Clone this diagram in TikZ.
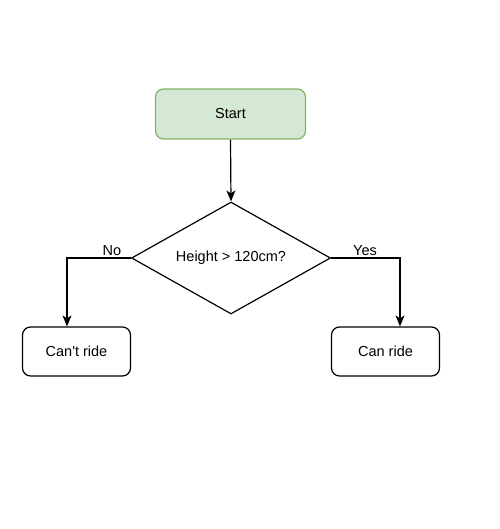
\documentclass[tikz,border=0pt]{standalone}
\usepackage{fontspec}
\setmainfont{Liberation Sans}
\usetikzlibrary{shapes.geometric,arrows.meta}
\definecolor{startfill}{HTML}{D5E8D4}
\definecolor{startdraw}{HTML}{82B366}
\begin{document}
\begin{tikzpicture}[x=1pt,y=-1pt,
  txt/.style={font=\fontsize{14.5}{17}\selectfont},
  box/.style={draw=black,line width=1.2pt,rounded corners=8pt,minimum width=108pt,minimum height=49pt,inner sep=0pt,txt},
  startbox/.style={box,fill=startfill,draw=startdraw,minimum width=150pt,minimum height=50pt},
  decision/.style={draw=black,line width=1.2pt,diamond,aspect=1.78,minimum width=199pt,minimum height=112pt,inner sep=0pt,txt},
  conn/.style={line width=1.2pt,-{Stealth[length=11pt,width=9pt,inset=3pt]}},
  lbl/.style={txt,inner sep=0pt}]
\useasboundingbox (0,0) rectangle (499,529);
\node[startbox] (start) at (230.5,114) {Start};
\node[decision] (dec) at (231,258) {Height > 120cm?};
\node[box] (no) at (76.5,351.5) {Can\textquotesingle t ride};
\node[box] (yes) at (385.5,351.5) {Can ride};
\coordinate (nocorner) at (67,258);
\coordinate (yescorner) at (400,258);
\draw[conn] (start.south) -- (dec.north);
\draw[conn] (dec.west) -- (nocorner) -- (nocorner |- no.north);
\draw[conn] (dec.east) -- (yescorner) -- (yescorner |- yes.north);
\node[lbl,anchor=base] (nolbl) at (112,255) {No};
\node[lbl,anchor=base] (yeslbl) at (365,255) {Yes};
\end{tikzpicture}
\end{document}
